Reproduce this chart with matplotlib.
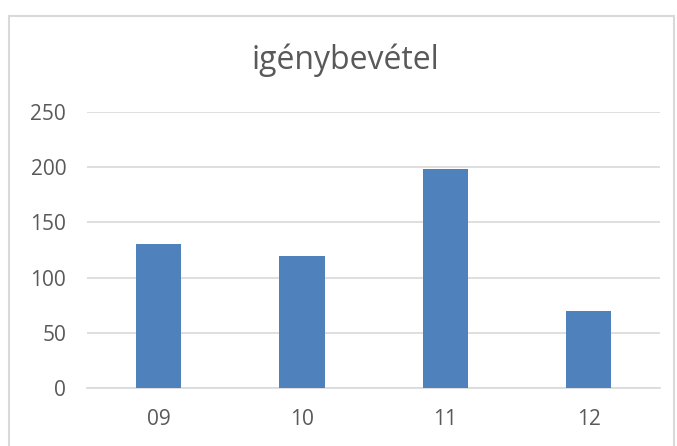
import matplotlib.pyplot as plt
from matplotlib.patches import Rectangle

plt.rcParams['font.family'] = ['Open Sans', 'DejaVu Sans']

# adatok
honapok = ["09", "10", "11", "12"]
ertekek = [130, 120, 198, 70]
y_ticks = [0, 50, 100, 150, 200, 250]

fig = plt.figure(figsize=(6.77, 4.46), dpi=100)
ax = fig.add_axes([0.1285, 0.130, 0.847, 0.619])

ax.bar(honapok, ertekek, width=0.315, color='#4F81BD', zorder=3)

ax.set_ylim(0, 250)
ax.set_xlim(-0.5, 3.5)
ax.set_yticks(y_ticks)
ax.grid(axis='y', color='#D9D9D9', linewidth=1.2, zorder=0)
for s in ['top', 'right', 'left']:
    ax.spines[s].set_visible(False)
ax.spines['bottom'].set_color('#D9D9D9')
ax.spines['bottom'].set_linewidth(1.2)
ax.tick_params(axis='both', length=0, labelsize=15, colors='#595959')
ax.tick_params(axis='x', pad=15)
ax.tick_params(axis='y', pad=15)

fig.text(0.51, 0.865, "igénybevétel", ha='center', va='center',
         fontsize=23, color='#595959')

# keret
fig.patches.append(Rectangle((9 / 677, -0.05), 665 / 677, 1 - 16 / 446 + 0.05,
                             transform=fig.transFigure, fill=False,
                             edgecolor='#D9D9D9', linewidth=1.5))

fig.savefig("out.png", dpi=100, facecolor='white')
